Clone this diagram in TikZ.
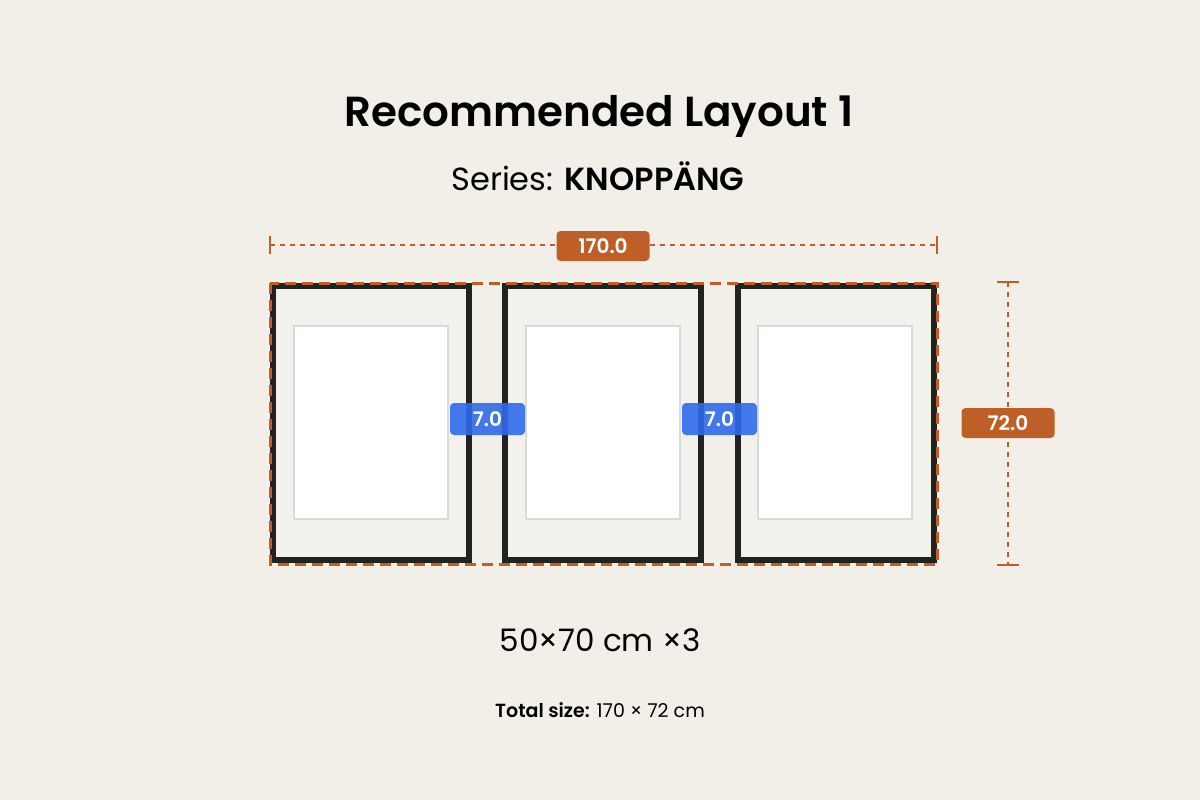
\documentclass[tikz,border=0pt]{standalone}
\usepackage{fontspec}
\setmainfont{Poppins}
\newfontfamily\semibold{Poppins SemiBold}
\usepackage{xcolor}
\usepackage{tikz}
\usetikzlibrary{positioning}

\definecolor{bgcol}{HTML}{F2EFE9}
\definecolor{matcol}{HTML}{F3F1EC}
\definecolor{framecol}{HTML}{222320}
\definecolor{dimcol}{HTML}{BE5F28}
\definecolor{gapcol}{HTML}{2F6BEB}

\begin{document}
\begin{tikzpicture}
               [x=1pt, y=-1pt,
                frame/.style = {draw=framecol, line width=6pt, fill=matcol, minimum width=196pt, minimum height=274pt, inner sep=0pt},
                mat/.style = {draw=black!15, line width=1.5pt, fill=white, minimum width=154pt, minimum height=193pt, inner sep=0pt},
                dimlbl/.style = {fill=dimcol, text=white, rounded corners=4pt, minimum width=93pt, minimum height=30pt, inner sep=0pt, font=\fontsize{20}{20}\selectfont\semibold},
                gaplbl/.style = {fill=gapcol, fill opacity=0.9, text opacity=1, text=white, rounded corners=4pt, minimum width=75pt, minimum height=32pt, inner sep=0pt, font=\fontsize{20}{20}\selectfont\semibold},
                dimline/.style = {draw=dimcol, line width=1.3pt, dash pattern=on 5pt off 5pt}]
                % Background
                \fill[bgcol] (0,0) rectangle (1200,800);
                % Titles
                \node (title) at (599,116) {\fontsize{42}{42}\selectfont\semibold Recommended Layout 1};
                \node (series) at (598,176) {\fontsize{32}{32}\selectfont Series: {\semibold KNOPPÄNG}};
                % Frames
                \node[frame] (f1) at (371,423) {};
                \node[frame] (f2) at (603,423) {};
                \node[frame] (f3) at (836,423) {};
                % Mats inside frames
                \node[mat] (m1) at (371,422.5) {};
                \node[mat] (m2) at (603,422.5) {};
                \node[mat] (m3) at (835,422.5) {};
                % Outline of the whole layout
                \draw[dimcol, line width=3pt, dash pattern=on 11pt off 6pt] (270,283) rectangle (937,564);
                % Width dimension
                \coordinate (wl) at (270,245);
                \coordinate (wr) at (937,245);
                \draw[dimline] (wl) -- (wr);
                \draw[dimcol, line width=1.3pt] ([yshift=-9pt]wl) -- ([yshift=9pt]wl);
                \draw[dimcol, line width=1.3pt] ([yshift=-9pt]wr) -- ([yshift=9pt]wr);
                \node[dimlbl] (w) at (603,246) {170.0};
                % Height dimension
                \coordinate (ht) at (1008,282);
                \coordinate (hb) at (1008,565);
                \draw[dimline] (ht) -- (hb);
                \draw[dimcol, line width=1.3pt] ([xshift=-11pt]ht) -- ([xshift=11pt]ht);
                \draw[dimcol, line width=1.3pt] ([xshift=-11pt]hb) -- ([xshift=11pt]hb);
                \node[dimlbl] (h) at (1008,423) {72.0};
                % Gaps between frames
                \node[gaplbl] (g1) at (487.5,419) {7.0};
                \node[gaplbl] (g2) at (719.5,419) {7.0};
                % Sizes
                \node (size) at (600,640) {\fontsize{31}{31}\selectfont 50×70 cm ×3};
                \node (total) at (600,710) {\fontsize{19}{19}\selectfont{\semibold Total size:} 170 × 72 cm};
            \end{tikzpicture}
\end{document}
